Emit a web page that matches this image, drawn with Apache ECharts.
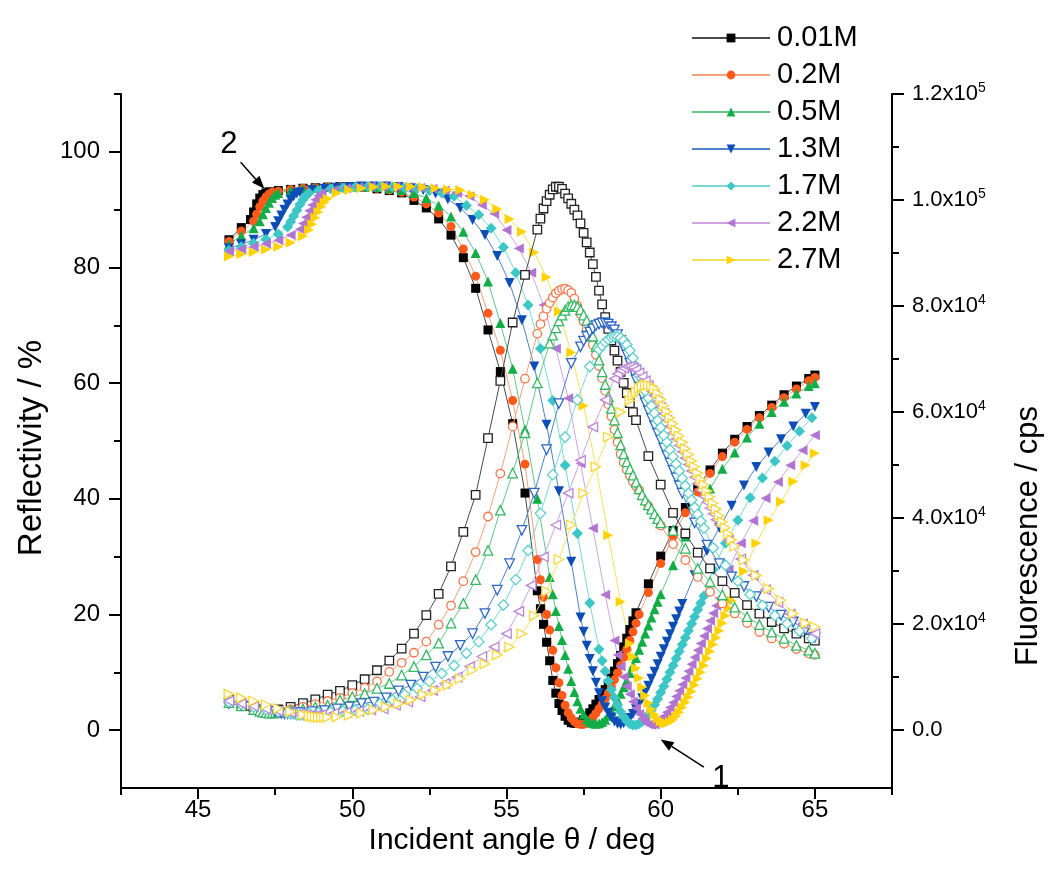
<!DOCTYPE html>
<html>
<head>
<meta charset="utf-8">
<script src="https://cdn.jsdelivr.net/npm/echarts@6/dist/echarts.min.js"></script>
<style>
  html, body { margin: 0; padding: 0; background: #fff; }
  #chart { width: 1050px; height: 893px; }
</style>
</head>
<body>
<div id="chart"></div>
<script>
// ---------------- DATA ----------------
const concentrations = ['0.01M', '0.2M', '0.5M', '1.3M', '1.7M', '2.2M', '2.7M'];

// incident angle (deg), reflectivity (%), fluorescence (x1000 cps)
const angle_001 = [46.0,46.4,46.7,46.8,46.9,47.0,47.1,47.2,47.3,47.6,48.0,48.4,48.8,49.2,49.6,50.0,50.4,50.8,51.2,51.6,52.0,52.4,52.8,53.2,53.6,54.0,54.4,54.8,55.2,55.6,56.0,56.1,56.2,56.3,56.4,56.5,56.6,56.7,56.8,56.9,57.0,57.1,57.2,57.3,57.4,57.5,57.6,57.7,57.8,57.9,58.0,58.1,58.2,58.3,58.4,58.5,58.6,58.7,58.8,58.9,59.0,59.1,59.2,59.6,60.0,60.4,60.8,61.2,61.6,62.0,62.4,62.8,63.2,63.6,64.0,64.4,64.8,65.0];
const refl_001 = [84.8,86.9,88.3,89.6,91.0,92.0,92.6,92.9,93.1,93.3,93.5,93.7,93.8,93.9,94.0,94.0,93.9,93.6,93.3,92.9,91.6,90.3,88.4,85.6,81.7,76.4,69.2,62.0,53.0,41.0,24.1,21.0,18.3,15.2,12.0,8.6,6.4,4.6,3.4,2.4,1.7,1.3,1.2,1.2,1.4,1.8,2.3,3.0,3.7,4.5,5.3,6.1,7.0,8.0,9.0,10.2,11.5,12.9,14.4,15.9,17.4,18.9,20.3,25.3,30.1,34.5,38.5,42.0,45.0,47.9,50.3,52.5,54.4,56.2,58.0,59.5,60.8,61.4];
const fluo_001 = [5.8,5.0,4.6,4.3,3.9,3.7,3.6,3.6,3.7,3.9,4.4,5.1,5.8,6.7,7.4,8.5,9.6,11.3,13.1,15.4,18.2,21.7,25.7,30.9,37.4,44.4,55.1,65.9,76.9,85.9,94.4,96.5,98.4,99.8,101.0,102.0,102.5,102.5,102.1,101.2,100.3,99.3,98.2,97.1,95.6,93.8,92.0,90.1,87.9,85.5,82.9,80.3,77.9,75.7,73.5,71.6,69.7,67.6,65.5,63.6,61.7,60.0,58.5,51.7,46.3,41.0,37.1,33.5,30.5,28.1,25.9,23.6,22.0,20.4,19.2,18.2,17.3,16.9];

const angle_02 = [46.0,46.4,46.8,46.9,47.0,47.1,47.2,47.3,47.4,47.6,48.0,48.4,48.8,49.2,49.6,50.0,50.4,50.8,51.2,51.6,52.0,52.4,52.8,53.2,53.6,54.0,54.4,54.8,55.2,55.6,56.0,56.1,56.2,56.3,56.4,56.5,56.6,56.7,56.8,56.9,57.0,57.1,57.2,57.3,57.4,57.5,57.6,57.7,57.8,57.9,58.0,58.1,58.2,58.3,58.4,58.5,58.6,58.7,58.8,58.9,59.0,59.1,59.2,59.3,59.6,60.0,60.4,60.8,61.2,61.6,62.0,62.4,62.8,63.2,63.6,64.0,64.4,64.8,65.0];
const refl_02 = [84.5,86.3,88.0,89.2,90.5,91.5,92.2,92.7,93.0,93.2,93.5,93.7,93.8,93.9,94.0,94.0,93.9,93.7,93.4,93.0,92.2,91.0,89.4,87.1,83.2,78.5,72.1,65.7,57.0,46.0,29.5,26.0,23.0,20.0,17.3,13.8,10.8,8.2,6.0,4.3,3.0,2.1,1.5,1.1,1.0,1.0,1.2,1.6,2.2,2.9,3.7,4.5,5.4,6.4,7.5,8.7,9.9,11.2,12.6,14.0,15.5,17.0,18.5,20.0,23.8,28.8,33.5,37.6,41.2,44.4,47.3,49.8,52.0,54.0,55.8,57.5,59.0,60.4,61.0];
const fluo_02 = [5.5,4.7,4.1,3.8,3.6,3.5,3.4,3.4,3.5,3.6,3.9,4.4,4.9,5.5,6.1,7.0,8.0,9.2,11.0,12.7,14.6,16.7,19.9,23.5,28.1,33.6,40.3,48.4,57.3,66.3,74.8,76.6,78.1,79.5,80.6,81.6,82.4,82.9,83.2,83.3,83.0,82.5,81.4,80.0,78.5,77.1,75.7,74.3,72.7,70.8,68.7,66.4,64.0,61.5,59.2,56.7,54.3,52.1,50.5,49.1,48.0,46.9,46.0,45.3,42.3,38.6,35.1,32.1,28.9,26.1,23.9,22.0,20.2,18.5,17.3,16.3,15.3,14.5,14.2];

const angle_05 = [46.0,46.4,46.8,47.0,47.1,47.2,47.3,47.4,47.5,47.6,48.0,48.4,48.8,49.2,49.6,50.0,50.4,50.8,51.2,51.6,52.0,52.4,52.8,53.2,53.6,54.0,54.4,54.8,55.2,55.6,56.0,56.4,56.5,56.6,56.7,56.8,56.9,57.0,57.1,57.2,57.3,57.4,57.5,57.6,57.7,57.8,57.9,58.0,58.1,58.2,58.3,58.4,58.5,58.6,58.7,58.8,58.9,59.0,59.1,59.2,59.3,59.4,59.5,59.6,59.7,59.8,59.9,60.0,60.4,60.8,61.2,61.6,62.0,62.4,62.8,63.2,63.6,64.0,64.4,64.8,65.0];
const refl_05 = [84.0,85.5,86.8,88.0,89.2,90.3,91.2,92.0,92.6,92.9,93.3,93.6,93.8,93.9,94.0,94.0,94.0,93.9,93.7,93.4,92.9,92.0,90.7,88.8,86.2,82.5,77.6,70.4,62.5,52.0,40.0,26.5,23.5,20.6,18.0,15.6,13.0,10.6,8.5,6.6,5.0,3.7,2.7,1.9,1.4,1.2,1.1,1.2,1.4,1.8,2.5,3.3,4.2,5.2,6.3,7.4,8.6,9.9,11.2,12.5,13.9,15.3,16.7,18.1,19.5,20.9,22.2,23.5,28.5,33.5,38.0,41.8,45.2,48.0,50.6,53.0,55.0,56.8,58.2,59.5,60.0];
const fluo_05 = [5.2,4.6,3.9,3.6,3.4,3.3,3.2,3.2,3.3,3.4,3.7,4.0,4.4,4.7,5.7,6.3,6.9,7.9,8.8,10.4,12.0,14.2,16.4,20.2,23.9,28.4,33.9,41.5,48.5,56.1,65.5,73.0,74.5,75.9,77.2,78.3,79.2,79.9,80.2,80.2,79.9,79.3,78.3,77.3,75.9,74.3,72.4,69.8,67.6,65.2,62.9,60.7,58.5,56.1,53.8,52.1,50.6,49.3,48.1,46.8,45.5,44.4,43.4,42.5,41.7,40.8,39.9,39.1,37.7,34.3,30.5,28.0,25.5,23.2,21.4,19.9,18.5,17.3,16.0,15.1,14.5];

const angle_13 = [46.0,46.4,46.8,47.2,47.5,47.6,47.7,47.8,47.9,48.0,48.1,48.2,48.3,48.7,49.1,49.5,49.9,50.3,50.7,51.1,51.5,51.9,52.3,52.7,53.1,53.5,53.9,54.3,54.7,55.1,55.5,55.9,56.3,56.7,57.1,57.4,57.5,57.6,57.7,57.8,57.9,58.0,58.1,58.2,58.3,58.4,58.5,58.6,58.7,58.8,58.9,59.0,59.1,59.2,59.3,59.4,59.5,59.6,59.7,59.8,59.9,60.0,60.1,60.2,60.3,60.4,60.5,60.6,60.7,61.1,61.5,61.9,62.3,62.7,63.1,63.5,63.9,64.3,64.7,65.0];
const refl_13 = [83.3,84.0,84.8,85.8,87.0,88.0,89.0,90.0,90.9,91.7,92.3,92.8,93.0,93.4,93.6,93.8,93.9,94.0,94.0,94.0,93.9,93.7,93.4,92.8,91.8,90.3,88.2,85.6,82.0,77.3,70.9,62.9,52.8,41.3,29.1,19.5,17.0,14.6,12.3,10.2,8.2,6.4,5.0,3.9,3.0,2.2,1.5,1.1,1.0,1.2,1.6,2.1,2.8,3.6,4.5,5.5,6.6,7.7,8.9,10.1,11.4,12.7,14.0,15.3,16.6,17.9,19.2,20.5,21.8,26.8,31.0,35.0,38.8,42.3,45.5,48.0,50.3,52.5,54.7,55.9];
const fluo_13 = [5.0,4.7,4.3,3.8,3.5,3.3,3.2,3.1,3.1,3.1,3.2,3.3,3.3,3.5,3.7,4.0,4.4,5.0,5.3,6.1,7.4,8.5,10.0,11.9,13.9,16.0,18.2,22.0,26.4,31.4,37.7,44.7,52.9,61.6,69.2,72.3,73.4,74.3,75.1,75.7,76.3,76.6,76.8,76.8,76.6,76.1,75.5,74.6,73.5,72.2,70.8,69.2,67.6,66.1,64.7,63.2,61.7,60.2,58.8,57.4,56.0,54.7,53.2,51.8,50.4,49.0,47.6,46.1,44.7,39.1,34.9,31.4,28.9,27.1,25.2,23.2,21.7,20.4,18.9,17.5];

const angle_17 = [46.0,46.4,46.8,47.2,47.6,47.9,48.0,48.1,48.2,48.3,48.4,48.5,48.6,48.9,49.3,49.7,50.1,50.5,50.9,51.3,51.7,52.1,52.5,52.9,53.3,53.7,54.1,54.5,54.9,55.3,55.7,56.1,56.5,56.9,57.3,57.7,58.0,58.1,58.2,58.3,58.4,58.5,58.6,58.7,58.8,58.9,59.0,59.1,59.2,59.3,59.4,59.5,59.6,59.7,59.8,59.9,60.0,60.1,60.2,60.3,60.4,60.5,60.6,60.7,60.8,60.9,61.0,61.1,61.2,61.3,61.4,61.7,62.1,62.5,62.9,63.3,63.7,64.1,64.5,64.9];
const refl_17 = [83.0,83.6,84.2,84.9,85.8,87.0,87.9,88.9,89.9,90.9,91.7,92.4,92.9,93.3,93.6,93.8,93.9,94.0,94.0,93.9,93.8,93.6,93.3,92.9,92.3,90.7,89.1,86.8,83.5,79.1,73.5,66.0,57.0,45.8,34.0,22.0,14.0,12.0,10.2,8.5,7.0,5.6,4.3,3.2,2.3,1.6,1.1,0.9,0.9,1.1,1.5,2.0,2.7,3.5,4.4,5.4,6.5,7.6,8.8,10.0,11.2,12.4,13.6,14.8,16.0,17.2,18.4,19.6,20.8,22.0,23.2,27.8,32.3,36.3,40.2,43.6,46.5,49.2,51.7,54.0];
const fluo_17 = [5.3,4.9,4.4,3.9,3.5,3.3,3.2,3.1,2.9,2.9,2.9,3.1,3.2,3.3,3.4,3.6,3.8,4.0,5.0,5.7,6.7,7.9,9.2,10.7,12.2,14.5,16.7,19.9,23.6,28.4,33.9,40.9,48.2,55.3,62.3,68.6,71.8,72.5,73.2,73.7,74.1,74.2,74.2,74.0,73.5,72.7,71.6,70.2,68.6,66.9,65.5,64.0,62.6,61.2,59.8,58.4,57.1,55.6,54.3,52.9,51.6,50.2,48.9,47.5,46.1,44.7,43.4,42.0,40.7,39.4,38.1,34.4,31.1,28.1,25.6,23.5,21.6,20.1,18.7,17.3];

const angle_22 = [46.0,46.4,46.8,47.2,47.6,48.0,48.3,48.4,48.5,48.6,48.7,48.8,48.9,49.0,49.4,49.8,50.2,50.6,51.0,51.4,51.8,52.2,52.6,53.0,53.4,53.8,54.2,54.6,55.0,55.4,55.8,56.2,56.6,57.0,57.4,57.8,58.2,58.5,58.6,58.7,58.8,58.9,59.0,59.1,59.2,59.3,59.4,59.5,59.6,59.7,59.8,59.9,60.0,60.1,60.2,60.3,60.4,60.5,60.6,60.7,60.8,60.9,61.0,61.1,61.2,61.3,61.4,61.5,61.6,61.7,61.8,61.9,62.2,62.6,63.0,63.4,63.8,64.2,64.6,65.0];
const refl_22 = [82.8,83.2,83.6,84.1,84.7,85.6,86.6,87.6,88.7,89.8,90.8,91.7,92.4,92.9,93.4,93.7,93.9,94.0,94.0,94.0,93.9,93.8,93.6,93.3,92.9,92.3,90.8,89.3,86.5,83.3,79.1,73.5,66.0,57.4,46.1,34.9,23.4,15.5,13.0,11.0,9.2,7.6,6.2,4.9,3.8,2.8,2.0,1.4,1.0,0.9,1.0,1.3,1.8,2.4,3.1,3.9,4.8,5.8,6.8,7.9,9.0,10.2,11.4,12.6,13.8,15.0,16.3,17.6,18.9,20.2,21.5,22.8,27.8,32.3,36.2,40.1,42.9,45.8,48.4,51.0];
const fluo_22 = [5.5,5.0,4.5,4.0,3.6,3.3,3.1,2.9,2.8,2.7,2.7,2.7,2.8,2.9,3.2,3.4,3.6,3.8,4.0,4.7,5.3,6.3,7.5,8.8,10.0,12.0,13.9,15.7,18.2,22.4,27.3,32.7,38.7,44.7,50.9,57.2,62.3,66.3,67.2,67.9,68.3,68.6,68.6,68.4,68.0,67.4,66.7,65.9,65.0,64.0,63.1,62.0,60.9,59.7,58.5,57.3,56.1,54.9,53.7,52.5,51.3,50.1,48.9,47.7,46.5,45.3,44.1,43.0,41.9,40.8,39.7,38.7,35.8,32.3,29.2,26.5,24.1,21.9,20.0,18.2];

const angle_27 = [46.0,46.4,46.8,47.2,47.6,48.0,48.4,48.6,48.7,48.8,48.9,49.0,49.1,49.2,49.5,49.9,50.3,50.7,51.1,51.5,51.9,52.3,52.7,53.1,53.5,53.9,54.3,54.7,55.1,55.5,55.9,56.3,56.7,57.1,57.5,57.9,58.3,58.7,59.0,59.1,59.2,59.3,59.4,59.5,59.6,59.7,59.8,59.9,60.0,60.1,60.2,60.3,60.4,60.5,60.6,60.7,60.8,60.9,61.0,61.1,61.2,61.3,61.4,61.5,61.6,61.7,61.8,61.9,62.0,62.1,62.2,62.3,62.4,62.7,63.1,63.5,63.9,64.3,64.7,65.0];
const refl_27 = [81.9,82.3,82.7,83.1,83.6,84.3,85.4,86.5,87.5,88.6,89.6,90.5,91.3,91.9,92.9,93.4,93.7,93.9,94.0,94.0,94.0,93.9,93.7,93.5,93.4,92.6,91.7,90.1,88.4,86.2,82.6,78.3,72.4,65.3,56.1,45.6,33.7,22.2,15.0,12.7,10.7,9.0,7.4,6.0,4.7,3.6,2.7,2.0,1.5,1.2,1.2,1.4,1.8,2.4,3.1,3.9,4.8,5.7,6.7,7.8,8.9,10.0,11.2,12.4,13.6,14.8,16.0,17.2,18.5,19.8,21.1,22.4,23.7,27.5,32.3,36.3,39.5,43.0,45.8,47.9];
const fluo_27 = [6.8,6.1,5.5,4.8,4.1,3.5,2.9,2.7,2.6,2.5,2.4,2.4,2.4,2.4,2.5,2.8,3.2,3.8,4.4,5.0,5.7,6.7,7.5,8.5,9.7,11.3,12.5,14.2,15.7,18.2,21.6,26.2,32.2,38.7,44.7,49.7,55.3,60.0,62.2,63.1,63.8,64.5,64.9,65.1,65.1,64.9,64.4,63.5,62.4,61.2,60.1,58.9,57.8,56.6,55.5,54.3,53.1,52.0,50.8,49.7,48.5,47.3,46.3,45.1,44.0,42.8,41.7,40.5,39.3,38.2,37.0,35.9,34.7,32.1,29.2,26.7,24.5,22.0,20.2,19.5];

// axis ticks
const xMajorTicks = [45, 50, 55, 60, 65];
const xMinorTicks = [42.5, 47.5, 52.5, 57.5, 62.5, 67.5];
const reflTicks = [0, 20, 40, 60, 80, 100];
const reflMinorTicks = [10, 30, 50, 70, 90, 110];
const fluoTicks = [0, 20000, 40000, 60000, 80000, 100000, 120000];
const fluoMinorTicks = [10000, 30000, 50000, 70000, 90000, 110000];

// ---------------- STYLE ----------------
const angles = [angle_001, angle_02, angle_05, angle_13, angle_17, angle_22, angle_27];
const refls = [refl_001, refl_02, refl_05, refl_13, refl_17, refl_22, refl_27];
const fluos = [fluo_001, fluo_02, fluo_05, fluo_13, fluo_17, fluo_22, fluo_27];

const markColors = ['#000000', '#ff5a1a', '#13ad48', '#0c4db6', '#3cc6c6', '#b274d2', '#ffd200'];
const lineColors = ['#4a4a4a', '#f3a27c', '#63c58a', '#4f82c8', '#79d9d3', '#cfa4e2', '#f5e25c'];
const openBorder = ['#222222', '#f4774a', '#35b863', '#2e66c4', '#5ccfcb', '#bb86d8', '#f7d93a'];
const symbols = ['rect', 'circle', 'triangle', 'triangle', 'diamond', 'triangle', 'triangle'];
const rotations = [0, 0, 0, 180, 0, 90, -90];
const sizes = [9, 9, 10, 10, 11, 10, 10];
const FONT = "'Liberation Sans', Arial, Helvetica, sans-serif";

const series = [];
concentrations.forEach((name, i) => {
  series.push({
    name: name, type: 'line', xAxisIndex: 0, yAxisIndex: 0,
    data: angles[i].map((x, j) => [x, refls[i][j]]),
    symbol: symbols[i], symbolRotate: rotations[i], symbolSize: sizes[i],
    lineStyle: { color: lineColors[i], width: 1 },
    itemStyle: { color: markColors[i], borderWidth: 0 },
    emphasis: { disabled: true }, animation: false, z: 2
  });
});
concentrations.forEach((name, i) => {
  series.push({
    name: name, type: 'line', xAxisIndex: 0, yAxisIndex: 2,
    data: angles[i].map((x, j) => [x, fluos[i][j] * 1000]),
    symbol: symbols[i], symbolRotate: rotations[i], symbolSize: sizes[i] - 0.5,
    lineStyle: { color: lineColors[i], width: 1 },
    itemStyle: { color: '#ffffff', borderColor: openBorder[i], borderWidth: 1.3 },
    emphasis: { disabled: true }, animation: false, z: 3
  });
});

function supLabel(v) {
  if (v === 0) return '{a|0.0}';
  const e = Math.floor(Math.log10(v) + 1e-9);
  const m = v / Math.pow(10, e);
  return '{a|' + m.toFixed(1) + 'x10}{b|' + e + '}';
}

const axisLineStyle = { color: '#000', width: 2 };
const option = {
  backgroundColor: '#ffffff',
  animation: false,
  grid: { left: 121, right: 158, top: 94, bottom: 105, containLabel: false },
  legend: {
    data: concentrations,
    orient: 'vertical', left: 691, top: 23, padding: 0,
    itemWidth: 78, itemHeight: 11, itemGap: 7,
    textStyle: { fontSize: 29, fontFamily: FONT, color: '#000', lineHeight: 30, padding: [0, 0, 0, 2] },
    selectedMode: false
  },
  xAxis: [
    {
      type: 'value', min: 42.5, max: 67.5, position: 'bottom',
      axisLine: { show: true, onZero: false, lineStyle: axisLineStyle },
      axisTick: { show: true, length: 11, customValues: xMajorTicks, lineStyle: { color: '#000', width: 2 } },
      axisLabel: { customValues: xMajorTicks, fontSize: 24, fontFamily: FONT, color: '#000', margin: 10 },
      splitLine: { show: false }
    },
    {
      type: 'value', min: 42.5, max: 67.5, position: 'bottom', offset: 0,
      axisLine: { show: false, onZero: false },
      axisTick: { show: true, length: 7, customValues: xMinorTicks, lineStyle: { color: '#000', width: 2 } },
      axisLabel: { show: false }, splitLine: { show: false }
    }
  ],
  yAxis: [
    {
      type: 'value', min: -10, max: 110, position: 'left',
      axisLine: { show: true, onZero: false, lineStyle: axisLineStyle },
      axisTick: { show: true, length: 12, customValues: reflTicks, lineStyle: { color: '#000', width: 2 } },
      axisLabel: { customValues: reflTicks, fontSize: 24, fontFamily: FONT, color: '#000', margin: 21 },
      splitLine: { show: false }
    },
    {
      type: 'value', min: -10, max: 110, position: 'left', offset: 0,
      axisLine: { show: false, onZero: false },
      axisTick: { show: true, length: 7, customValues: reflMinorTicks, lineStyle: { color: '#000', width: 2 } },
      axisLabel: { show: false }, splitLine: { show: false }
    },
    {
      type: 'value', min: -10909.09, max: 120000, position: 'right',
      axisLine: { show: true, onZero: false, lineStyle: axisLineStyle },
      axisTick: { show: true, length: 12, customValues: fluoTicks, lineStyle: { color: '#000', width: 2 } },
      axisLabel: {
        customValues: fluoTicks, margin: 20, color: '#000',
        formatter: supLabel,
        rich: {
          a: { fontSize: 22, fontFamily: FONT, color: '#000', lineHeight: 26 },
          b: { fontSize: 14, fontFamily: FONT, color: '#000', lineHeight: 14, verticalAlign: 'top' }
        }
      },
      splitLine: { show: false }
    },
    {
      type: 'value', min: -10909.09, max: 120000, position: 'right', offset: 0,
      axisLine: { show: false, onZero: false },
      axisTick: { show: true, length: 7, customValues: fluoMinorTicks, lineStyle: { color: '#000', width: 2 } },
      axisLabel: { show: false }, splitLine: { show: false }
    }
  ],
  series: series
};

const chart = echarts.init(document.getElementById('chart'), null, { renderer: 'canvas' });
chart.setOption(option);

// annotations (positions given in data coordinates of the reflectivity axes)
function px(pt) { return chart.convertToPixel({ xAxisIndex: 0, yAxisIndex: 0 }, pt); }
function arrow(from, to) {
  const a = px(from), b = px(to);
  const ang = Math.atan2(b[1] - a[1], b[0] - a[0]);
  const L = 13, W = 5;
  const bx = b[0] - L * Math.cos(ang), by = b[1] - L * Math.sin(ang);
  return [
    { type: 'line', shape: { x1: a[0], y1: a[1], x2: bx, y2: by }, style: { stroke: '#000', lineWidth: 1.5 }, silent: true, z: 100 },
    { type: 'polygon', shape: { points: [[b[0], b[1]], [bx - W * Math.sin(ang), by + W * Math.cos(ang)], [bx + W * Math.sin(ang), by - W * Math.cos(ang)]] }, style: { fill: '#000' }, silent: true, z: 100 }
  ];
}
const t2 = px([46.0, 101.2]);
const t1 = px([61.95, -8.3]);
const graphics = [
  { type: 'text', x: 32, y: 448, rotation: Math.PI / 2, silent: true,
    style: { text: 'Reflectivity / %', font: '33px ' + FONT, fill: '#000', textAlign: 'center', textVerticalAlign: 'middle' } },
  { type: 'text', x: 1028, y: 536, rotation: Math.PI / 2, silent: true,
    style: { text: 'Fluorescence / cps', font: '31px ' + FONT, fill: '#000', textAlign: 'center', textVerticalAlign: 'middle' } },
  { type: 'text', x: 512, y: 841, silent: true,
    style: { text: 'Incident angle θ / deg', font: '30px ' + FONT, fill: '#000', textAlign: 'center', textVerticalAlign: 'middle' } },
  { type: 'text', x: t2[0], y: t2[1], silent: true, z: 100,
    style: { text: '2', font: '31px ' + FONT, fill: '#000', textAlign: 'center', textVerticalAlign: 'middle' } },
  { type: 'text', x: t1[0], y: t1[1], silent: true, z: 100,
    style: { text: '1', font: '31px ' + FONT, fill: '#000', textAlign: 'center', textVerticalAlign: 'middle' } }
].concat(arrow([46.38, 98.2], [47.15, 93.6])).concat(arrow([61.4, -6.4], [60.0, -1.6]));
chart.setOption({ graphic: graphics });
</script>
</body>
</html>
